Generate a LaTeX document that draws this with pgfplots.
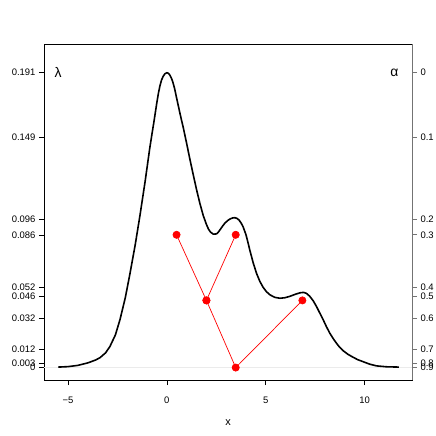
\documentclass[border=0pt]{standalone}
\usepackage{fontspec}
\setmainfont{Liberation Sans}
\usepackage{pgfplots}
\pgfplotsset{compat=1.18}
\begin{document}
\begin{tikzpicture}
\pgfplotsset{
  base/.style={scale only axis, width=368bp, height=336bp,
    xmin=-6.21, xmax=12.39, ymin=-0.00806, ymax=0.2096,
    tick align=outside, major tick length=5bp,
    ticklabel style={font=\fontsize{9.5}{10}\selectfont},
    /pgf/number format/assume math mode=true,
    ytick={0,0.003,0.012,0.032,0.046,0.052,0.086,0.096,0.149,0.191},
  }
}
\begin{axis}[base, name=main,
  axis line style={black, line width=0.8bp},
  tick style={black, line width=0.6bp},
  xtick={-5,0,5,10}, xticklabels={−5,0,5,10},
  yticklabels={0,0.003,0.012,0.032,0.046,0.052,0.086,0.096,0.149,0.191},
  ytick pos=left, xtick pos=bottom,
  xticklabel style={yshift=-8bp},
  xlabel={x}, xlabel style={font=\fontsize{11}{12}\selectfont, yshift=-10bp},
  clip=true]
% baseline
\addplot[black!8, line width=0.6bp] coordinates {(-6.21,0) (12.39,0)};
% density estimate
\addplot[black, line width=1.6bp, line join=round] coordinates {
(-5.49,0.0003) (-5.0,0.0006) (-4.5,0.0014) (-4.0,0.0030) (-3.6,0.0049)
(-3.38,0.0064) (-3.1,0.0095) (-2.88,0.0136) (-2.6,0.0212) (-2.37,0.031)
(-2.1,0.0453) (-1.87,0.0605) (-1.6,0.0795) (-1.36,0.0985) (-1.1,0.1205)
(-0.86,0.1425) (-0.75,0.1515) (-0.65,0.1595) (-0.52,0.1705) (-0.43,0.1775)
(-0.35,0.1825) (-0.27,0.1862) (-0.19,0.1886) (-0.1,0.1903) (0.0,0.191)
(0.08,0.1906) (0.15,0.1895) (0.23,0.1875) (0.3,0.185) (0.39,0.1808)
(0.49,0.1748) (0.58,0.1695) (0.66,0.1648) (0.74,0.1603)
(0.82,0.156) (1.0,0.1452) (1.16,0.1352) (1.33,0.1251) (1.5,0.1153)
(1.67,0.1063) (1.84,0.0984) (2.0,0.0927) (2.1,0.0898) (2.2,0.0878) (2.35,0.0864)
(2.51,0.0866) (2.6,0.0877) (2.7,0.0895) (2.82,0.0917) (2.93,0.0935) (3.07,0.0952) (3.2,0.0963)
(3.32,0.0969) (3.43,0.0971) (3.55,0.0966) (3.65,0.0955) (3.75,0.0937) (3.85,0.0913)
(3.93,0.0885) (4.0,0.086) (4.1,0.081) (4.19,0.0762) (4.36,0.068)
(4.53,0.0611) (4.7,0.0558) (4.86,0.0521) (5.03,0.0492) (5.2,0.0472)
(5.45,0.0455) (5.71,0.0449) (5.95,0.0452) (6.21,0.0461) (6.5,0.0475)
(6.72,0.0484) (6.9,0.0487) (7.05,0.0481) (7.22,0.0462) (7.4,0.0432)
(7.56,0.0396) (7.73,0.0353) (7.9,0.031) (8.06,0.0266) (8.23,0.0224)
(8.4,0.0189) (8.57,0.0158) (8.73,0.0132) (8.9,0.011) (9.15,0.0086)
(9.41,0.0067) (9.65,0.0051) (9.92,0.0038) (10.25,0.0022) (10.59,0.0011)
(11.1,0.0005) (11.73,0.0003)};
% level set tree
\addplot[red, line width=0.7bp, mark=*, mark size=3.6bp, mark options={fill=red, draw=red}]
  coordinates {(0.49,0.086) (2.0,0.0435) (3.48,0.086)};
\addplot[red, line width=0.7bp, mark=*, mark size=3.6bp, mark options={fill=red, draw=red}]
  coordinates {(2.0,0.0435) (3.48,0) (6.85,0.0435)};
\node[font=\fontsize{14}{15}\selectfont] at (axis cs:-5.5,0.191) {λ};
\node[font=\fontsize{14}{15}\selectfont] at (axis cs:11.5,0.191) {α};
\end{axis}
\begin{axis}[base,
  axis x line=none, axis y line*=right,
  y axis line style={black!55, line width=0.8bp},
  tick style={black!55, line width=0.6bp},
  yticklabels={0.9,0.8,0.7,0.6,0.5,0.4,0.3,0.2,0.1,0},
  yticklabel style={anchor=west}]
\end{axis}
\pgfresetboundingbox
\path[use as bounding box] ([shift={(-44bp,-56bp)}]main.south west) rectangle ([shift={(24bp,44bp)}]main.north east);
\end{tikzpicture}
\end{document}
